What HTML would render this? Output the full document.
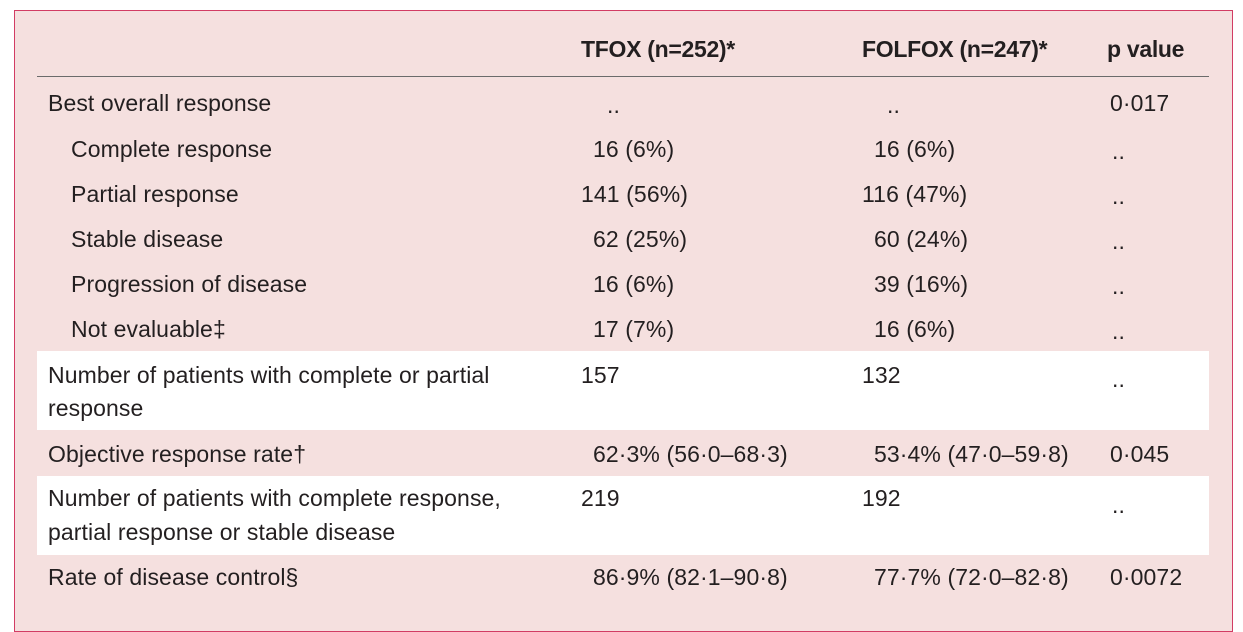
<!DOCTYPE html>
<html><head><meta charset="utf-8"><style>
body{margin:0;width:1243px;height:607px;background:#fff;position:relative;overflow:hidden;font-family:"Liberation Sans",sans-serif;color:#231f20}
#box{position:absolute;left:14px;top:10px;width:1217px;height:620px;border:1px solid #d23c64;background:#f5e0df}
.t{position:absolute;font-size:23px;line-height:26px;white-space:nowrap;letter-spacing:0.1px}
.b{font-weight:bold;letter-spacing:-0.3px}
.band{position:absolute;left:37px;width:1172px;background:#fff}
#rule{position:absolute;left:37px;top:76px;width:1172px;height:1px;background:#6b6b6b}
</style></head><body>
<div id="box"></div>
<div class="band" style="top:351px;height:79px"></div>
<div class="band" style="top:476px;height:79px"></div>
<div id="rule"></div>

<div class="t b" style="left:581px;top:36px">TFOX (n=252)*</div>
<div class="t b" style="left:862px;top:36px">FOLFOX (n=247)*</div>
<div class="t b" style="left:1107px;top:36px">p value</div>

<div class="t" style="left:48px;top:90px">Best overall response</div>
<div class="t" style="left:607px;top:92px">..</div>
<div class="t" style="left:887px;top:92px">..</div>
<div class="t" style="left:1110px;top:90px">0·017</div>

<div class="t" style="left:71px;top:136px">Complete response</div>
<div class="t" style="left:593px;top:136px">16 (6%)</div>
<div class="t" style="left:874px;top:136px">16 (6%)</div>
<div class="t" style="left:1112px;top:138px">..</div>

<div class="t" style="left:71px;top:181px">Partial response</div>
<div class="t" style="left:581px;top:181px">141 (56%)</div>
<div class="t" style="left:862px;top:181px">116 (47%)</div>
<div class="t" style="left:1112px;top:183px">..</div>

<div class="t" style="left:71px;top:226px">Stable disease</div>
<div class="t" style="left:593px;top:226px">62 (25%)</div>
<div class="t" style="left:874px;top:226px">60 (24%)</div>
<div class="t" style="left:1112px;top:228px">..</div>

<div class="t" style="left:71px;top:271px">Progression of disease</div>
<div class="t" style="left:593px;top:271px">16 (6%)</div>
<div class="t" style="left:874px;top:271px">39 (16%)</div>
<div class="t" style="left:1112px;top:273px">..</div>

<div class="t" style="left:71px;top:316px">Not evaluable‡</div>
<div class="t" style="left:593px;top:316px">17 (7%)</div>
<div class="t" style="left:874px;top:316px">16 (6%)</div>
<div class="t" style="left:1112px;top:318px">..</div>

<div class="t" style="left:48px;top:362px">Number of patients with complete or partial</div>
<div class="t" style="left:48px;top:395px">response</div>
<div class="t" style="left:581px;top:362px">157</div>
<div class="t" style="left:862px;top:362px">132</div>
<div class="t" style="left:1112px;top:366px">..</div>

<div class="t" style="left:48px;top:441px">Objective response rate†</div>
<div class="t" style="left:593px;top:441px">62·3% (56·0–68·3)</div>
<div class="t" style="left:874px;top:441px">53·4% (47·0–59·8)</div>
<div class="t" style="left:1110px;top:441px">0·045</div>

<div class="t" style="left:48px;top:485px">Number of patients with complete response,</div>
<div class="t" style="left:48px;top:519px">partial response or stable disease</div>
<div class="t" style="left:581px;top:485px">219</div>
<div class="t" style="left:862px;top:485px">192</div>
<div class="t" style="left:1112px;top:492px">..</div>

<div class="t" style="left:48px;top:564px">Rate of disease control§</div>
<div class="t" style="left:593px;top:564px">86·9% (82·1–90·8)</div>
<div class="t" style="left:874px;top:564px">77·7% (72·0–82·8)</div>
<div class="t" style="left:1110px;top:564px">0·0072</div>
</body></html>
